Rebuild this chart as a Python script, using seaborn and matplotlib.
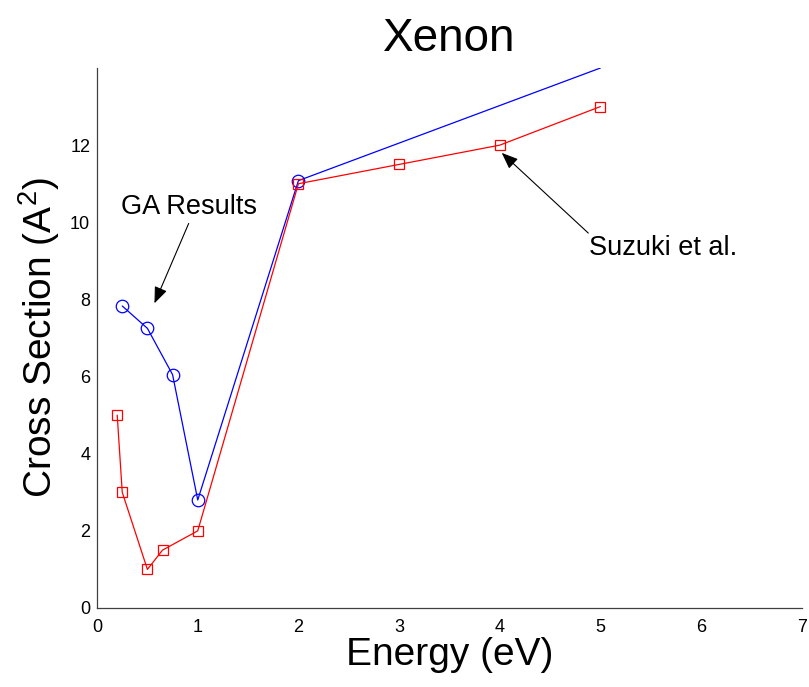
import matplotlib
matplotlib.use("Agg")
import matplotlib.pyplot as plt
import seaborn as sns

# GA results (blue circles); last point only shapes the line, it runs off the top
ga_energy = [0.25, 0.5, 0.75, 1.0, 2.0, 5.0]
ga_cross = [7.83, 7.25, 6.05, 2.8, 11.08, 14.0]

# Suzuki et al. (red squares)
suzuki_energy = [0.2, 0.25, 0.5, 0.65, 1.0, 2.0, 3.0, 4.0, 5.0]
suzuki_cross = [5.0, 3.0, 1.0, 1.5, 2.0, 11.0, 11.5, 12.0, 13.0]

x_ticks = [0, 1, 2, 3, 4, 5, 6, 7]
y_ticks = [0, 2, 4, 6, 8, 10, 12]

sns.set_style("white")
plt.rcParams["font.family"] = ["Liberation Sans", "DejaVu Sans"]
plt.rcParams["mathtext.default"] = "regular"
plt.rcParams["text.color"] = "black"
plt.rcParams["axes.labelcolor"] = "black"
plt.rcParams["xtick.direction"] = "in"
plt.rcParams["ytick.direction"] = "in"

fig = plt.figure(figsize=(8.09, 6.87), dpi=100)
ax = fig.add_axes([0.12, 0.115, 0.871, 0.786])

sns.lineplot(x=ga_energy, y=ga_cross, ax=ax, color="#0000ff", lw=0.9,
             marker="o", markersize=9, markerfacecolor="none",
             markeredgecolor="#0000ff", markeredgewidth=0.9,
             markevery=[0, 1, 2, 3, 4], sort=False, estimator=None)
sns.lineplot(x=suzuki_energy, y=suzuki_cross, ax=ax, color="#ff0000", lw=0.9,
             marker="s", markersize=7, markerfacecolor="none",
             markeredgecolor="#ff0000", markeredgewidth=0.9,
             sort=False, estimator=None)

ax.set_xlim(0, 7)
ax.set_ylim(0, 14)
ax.set_xticks(x_ticks)
ax.set_yticks(y_ticks)
ax.tick_params(axis="both", labelsize=13, length=5, width=0.8,
               colors="#404040", labelcolor="black")
ax.tick_params(axis="x", pad=8)
ax.tick_params(axis="y", pad=5)
for side in ["top", "right"]:
    ax.spines[side].set_visible(False)
for side in ["left", "bottom"]:
    ax.spines[side].set_color("#404040")
    ax.spines[side].set_linewidth(0.9)

ax.set_title("Xenon", fontsize=33, pad=12, color="black")
ax.set_xlabel("Energy (eV)", fontsize=28, labelpad=1)
ax.set_ylabel("Cross Section (A$^2$)", fontsize=28, labelpad=6)

arrow = dict(arrowstyle="-|>,head_length=1.0,head_width=0.4",
             color="black", lw=0.8, shrinkA=0, shrinkB=0)
ax.annotate("", xy=(0.57, 7.9), xytext=(0.91, 9.97), arrowprops=arrow)
ax.text(0.91, 10.39, "GA Results", fontsize=19.5, ha="center", va="center")
ax.annotate("", xy=(4.02, 11.8), xytext=(4.88, 9.72), arrowprops=arrow)
ax.text(5.62, 9.33, "Suzuki et al.", fontsize=19.5, ha="center", va="center")

fig.savefig("out.png", dpi=100)
